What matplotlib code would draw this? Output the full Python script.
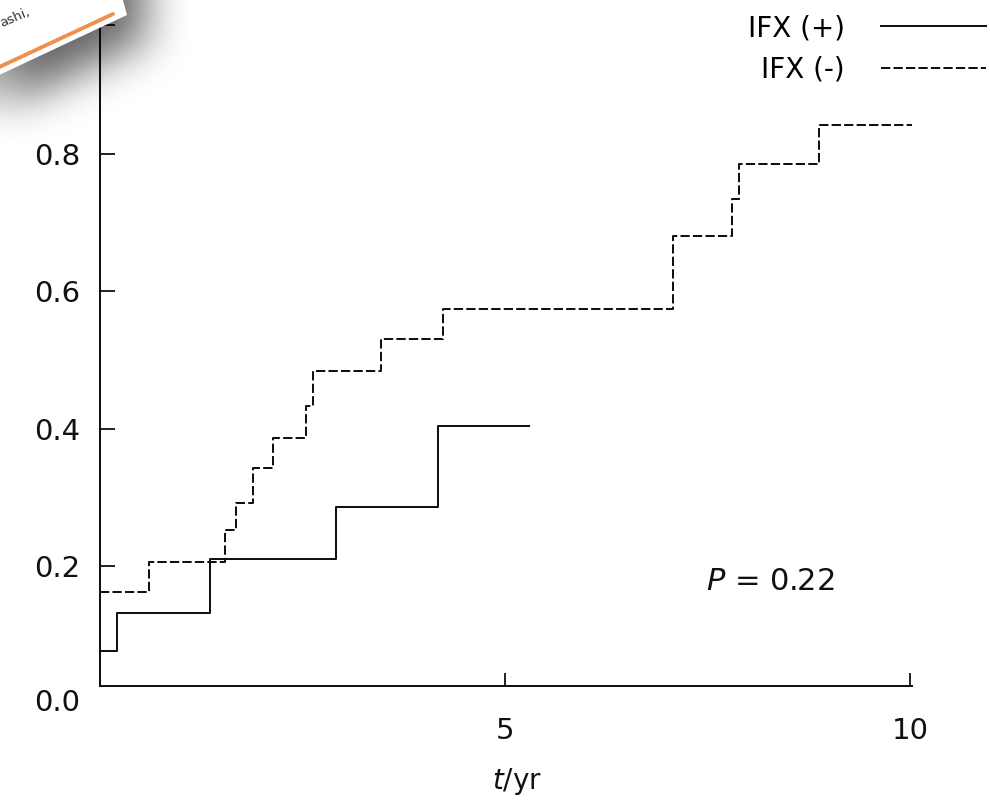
import matplotlib
matplotlib.use("Agg")
import matplotlib.pyplot as plt
import matplotlib.transforms as mtransforms
from matplotlib.patches import Polygon
from matplotlib.path import Path
import numpy as np

# ---- data ----
ifx_pos_t = [0.0, 0.206, 1.358, 2.914, 4.169, 5.30]
ifx_pos_v = [0.076, 0.132, 0.210, 0.286, 0.404, 0.404]

ifx_neg_t = [0.0, 0.609, 1.543, 1.679, 1.885, 2.132, 2.539, 2.634, 3.465,
             4.24, 7.07, 7.80, 7.89, 8.877, 10.02]
ifx_neg_v = [0.162, 0.206, 0.252, 0.292, 0.343, 0.386, 0.433, 0.484, 0.531,
             0.574, 0.681, 0.734, 0.785, 0.842, 0.842]

x_ticks = [5, 10]
x_ticklabels = ["5", "10"]
y_ticks = [0.2, 0.4, 0.6, 0.8]
y_ticklabels = ["0.2", "0.4", "0.6", "0.8"]
y_zero_label = "0.0"
series_labels = ["IFX (+)", "IFX (-)"]
p_text = "$P$ = 0.22"
x_label = "$t$/yr"

plt.rcParams['font.family'] = ['DejaVu Sans']
plt.rcParams['mathtext.fontset'] = 'dejavusans'

W, H = 990, 808
fig = plt.figure(figsize=(W / 100, H / 100), dpi=100)
fig.patch.set_facecolor('white')

# axes frame in pixels: left spine x=100, bottom spine y=686, top y=25
px_per_x = 81.0
xmax = 10.03
ylo, yhi = 0.0252, 0.988
ax = fig.add_axes([100 / W, (H - 686) / H, xmax * px_per_x / W, 661 / H])

lw = 1.45
ink = '#111111'
l1, = ax.step(ifx_pos_t, ifx_pos_v, where='post', color=ink, lw=lw,
              label=series_labels[0])
l2, = ax.step(ifx_neg_t, ifx_neg_v, where='post', color=ink, lw=lw,
              label=series_labels[1])
l2.set_dashes((4.6, 1.6))

ax.set_xlim(0, xmax)
ax.set_ylim(ylo, yhi)
for s in ['top', 'right']:
    ax.spines[s].set_visible(False)
for s in ['left', 'bottom']:
    ax.spines[s].set_linewidth(1.45)
    ax.spines[s].set_color(ink)

ax.set_xticks(x_ticks)
ax.set_xticklabels(x_ticklabels)
ax.set_yticks(y_ticks + [yhi])
ax.set_yticklabels(y_ticklabels + [""])
ax.tick_params(axis='x', direction='in', length=9.5, width=1.3, pad=22,
               labelsize=21, colors=ink)
ax.tick_params(axis='y', direction='in', length=10.5, width=1.3, pad=14,
               labelsize=21, colors=ink)

# "0.0" label sits at y = 0, just below the x-axis line (as in the reference)
btrans = mtransforms.blended_transform_factory(ax.transAxes, ax.transData)
ax.text(-20 / (xmax * px_per_x), 0.0, y_zero_label, transform=btrans,
        ha='right', va='center', fontsize=21, color=ink, clip_on=False)

ax.text(5.0 + 12 / px_per_x, ylo - 95 / 686.5, x_label, ha='center',
        va='center', fontsize=20, color=ink, clip_on=False)
ax.text(7.48, 0.178, p_text, ha='left', va='center', fontsize=22, color=ink)

leg = fig.legend(handles=[l1, l2], labels=series_labels, loc='upper right',
                 bbox_to_anchor=(986 / W, 1 - 14 / H), frameon=False,
                 markerfirst=False, fontsize=20, handlelength=3.78,
                 handletextpad=1.3, labelspacing=0.5, borderpad=0,
                 borderaxespad=0)

# ---- paper-corner overlay at top-left ----
ov = fig.add_axes([0, 0, 1, 1], zorder=10)
ov.axis('off')
ov.patch.set_alpha(0)

paper = np.array([[-20, 84], [127, 15], [115, -30], [-20, -30]])

SW, SH = 320, 250
yy, xx = np.mgrid[0:SH, 0:SW]
pts = np.column_stack([xx.ravel() + 0.5, yy.ravel() + 0.5])
shadow_poly = paper + np.array([24, 22])
mask = Path(shadow_poly).contains_points(pts).reshape(SH, SW).astype(float)


def box_blur(a, r):
    pad = np.pad(a, ((r, r), (r, r)), mode='edge')
    c = np.cumsum(pad, axis=0)
    c = np.vstack([np.zeros((1, c.shape[1])), c])
    a1 = (c[2 * r + 1:, :] - c[:-2 * r - 1, :]) / (2 * r + 1)
    c = np.cumsum(a1, axis=1)
    c = np.hstack([np.zeros((c.shape[0], 1)), c])
    return (c[:, 2 * r + 1:] - c[:, :-2 * r - 1]) / (2 * r + 1)


blur = mask
for _ in range(3):
    blur = box_blur(blur, 21)
rgba = np.zeros((SH, SW, 4))
rgba[..., 3] = np.clip(blur, 0, 1) * 0.62
ov.imshow(rgba, extent=[0, SW, SH, 0], origin='upper', interpolation='bilinear',
          zorder=1)
ov.add_patch(Polygon(paper, closed=True, facecolor='white', edgecolor='none',
                     zorder=2))
ov.plot([-5, 113], [69, 14], color='#F0904F', lw=2.8, solid_capstyle='round',
        zorder=3)
ov.text(2, 27, "ashi,", rotation=23, fontsize=9.5, color='#333333',
        ha='left', va='baseline', zorder=3, rotation_mode='anchor')
ov.set_xlim(0, W)
ov.set_ylim(H, 0)

fig.savefig('out.png', dpi=100)
